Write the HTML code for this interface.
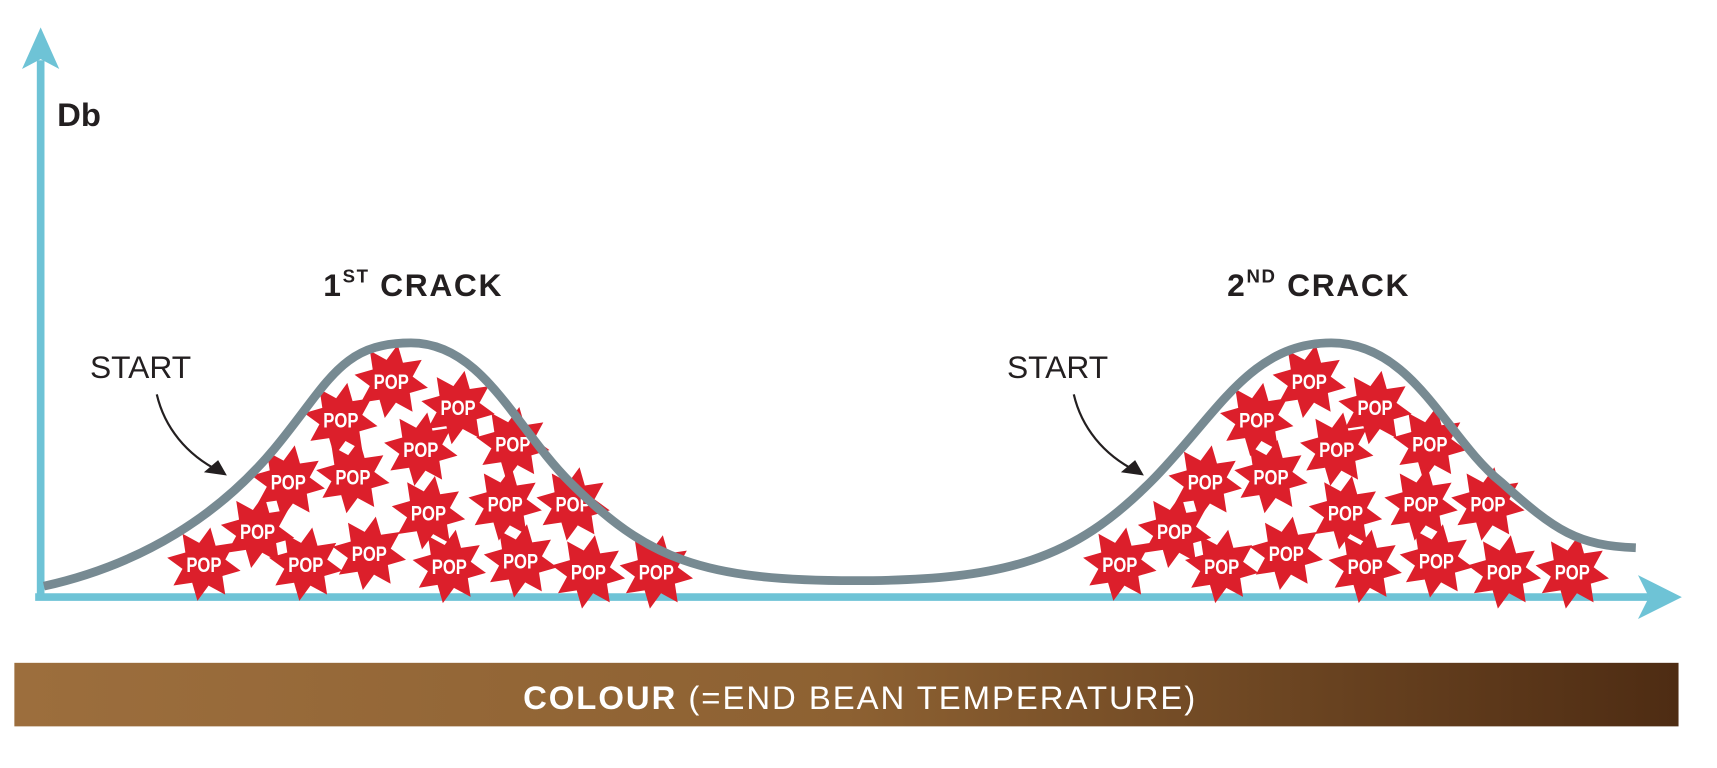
<!DOCTYPE html>
<html><head><meta charset="utf-8"><style>
html,body{margin:0;padding:0;background:#fff;}
svg{display:block;}
.pop{font-family:"Liberation Sans",sans-serif;font-weight:bold;font-size:19px;fill:#fff;}
</style></head><body>
<svg width="1717" height="768" viewBox="0 0 1567 701" xmlns="http://www.w3.org/2000/svg">
<defs>
<linearGradient id="g" x1="0" x2="1" y1="0" y2="0">
<stop offset="0" stop-color="#9c6e3d"/><stop offset="0.5" stop-color="#8d6132"/><stop offset="1" stop-color="#4e2c13"/>
</linearGradient>
<g id="s"><polygon fill="#dc1f2b" points="0,-34 7.6,-18.5 24,-24 18.5,-7.6 34,0 18.5,7.6 24,24 7.6,18.5 0,34 -7.6,18.5 -24,24 -18.5,7.6 -34,0 -18.5,-7.6 -24,-24 -7.6,-18.5" transform="rotate(10)"/>
<text class="pop" x="0" y="7" text-anchor="middle" transform="scale(0.8,1)">POP</text></g>
</defs>
<line x1="37" y1="55" x2="37" y2="545" stroke="#6ec3d6" stroke-width="7"/>
<polygon points="37,25 54,63 37,54 20,63" fill="#6ec3d6"/>
<line x1="32" y1="545" x2="1505" y2="545" stroke="#6ec3d6" stroke-width="7"/>
<polygon points="1535,545 1495,525 1505,545 1495,565" fill="#6ec3d6"/>
<text x="52" y="115" font-family="Liberation Sans,sans-serif" font-weight="bold" font-size="30" fill="#231f20">Db</text>
<g>
<use href="#s" x="357" y="348"/><use href="#s" x="418" y="372"/><use href="#s" x="311" y="383"/><use href="#s" x="468" y="405"/><use href="#s" x="384" y="410"/><use href="#s" x="263" y="440"/><use href="#s" x="322" y="435"/><use href="#s" x="461" y="460"/><use href="#s" x="523" y="460"/><use href="#s" x="391" y="468"/><use href="#s" x="235" y="485"/><use href="#s" x="186" y="515"/><use href="#s" x="279" y="515"/><use href="#s" x="337" y="505"/><use href="#s" x="410" y="517"/><use href="#s" x="475" y="512"/><use href="#s" x="537" y="522"/><use href="#s" x="599" y="522"/>
<use href="#s" x="1195" y="348"/><use href="#s" x="1255" y="372"/><use href="#s" x="1147" y="383"/><use href="#s" x="1305" y="405"/><use href="#s" x="1220" y="410"/><use href="#s" x="1100" y="440"/><use href="#s" x="1160" y="435"/><use href="#s" x="1228" y="468"/><use href="#s" x="1297" y="460"/><use href="#s" x="1358" y="460"/><use href="#s" x="1072" y="485"/><use href="#s" x="1022" y="515"/><use href="#s" x="1115" y="517"/><use href="#s" x="1174" y="505"/><use href="#s" x="1246" y="517"/><use href="#s" x="1311" y="512"/><use href="#s" x="1373" y="522"/><use href="#s" x="1435" y="522"/>
</g>
<path d="M40,535 C130,515 200,470 250,410 C300,350 310,313 375,313 C440,313 470,390 520,440 C590,510 640,530 780,530 C920,530 980,510 1050,440 C1110,380 1140,313 1215,313 C1290,313 1320,400 1370,440 C1420,485 1440,498 1493,500" fill="none" stroke="#778a92" stroke-width="8"/>
<g font-family="Liberation Sans,sans-serif" fill="#231f20">
<text x="295" y="270" font-weight="bold" font-size="29" letter-spacing="1.5">1<tspan font-size="17" dy="-12">ST</tspan><tspan dy="12"> CRACK</tspan></text>
<text x="1120" y="270" font-weight="bold" font-size="29" letter-spacing="1.5">2<tspan font-size="17" dy="-12">ND</tspan><tspan dy="12"> CRACK</tspan></text>
<text x="82" y="345" font-size="29">START</text>
<text x="919" y="345" font-size="29">START</text>
</g>
<path d="M143,360 C150,390 170,415 200,430" fill="none" stroke="#231f20" stroke-width="2"/>
<polygon points="207,434 186,431 199,420" fill="#231f20"/>
<path d="M980,360 C987,390 1007,415 1037,430" fill="none" stroke="#231f20" stroke-width="2"/>
<polygon points="1044,434 1023,431 1036,420" fill="#231f20"/>
<rect x="13" y="605" width="1519" height="58" fill="url(#g)"/>
<text x="785" y="647" text-anchor="middle" font-family="Liberation Sans,sans-serif" font-size="30" letter-spacing="1.8" fill="#fff"><tspan font-weight="bold">COLOUR</tspan> (=END BEAN TEMPERATURE)</text>
</svg>
</body></html>
